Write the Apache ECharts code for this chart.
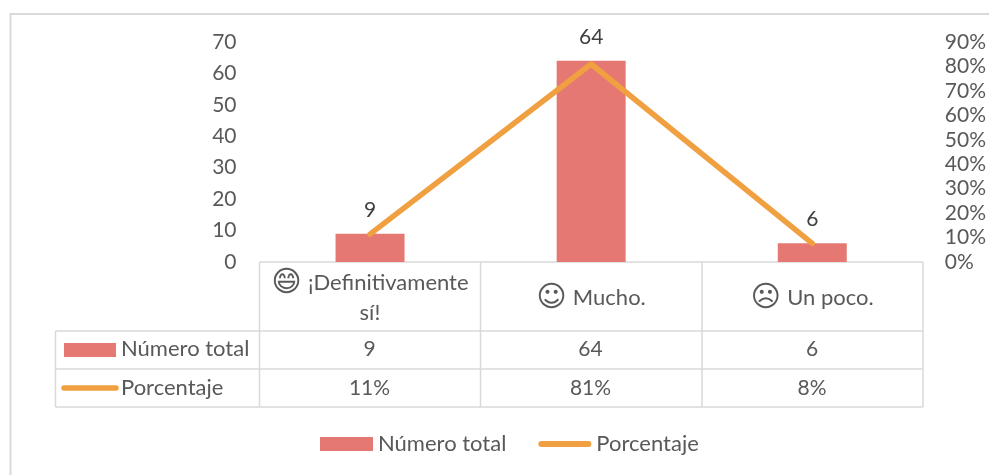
<!DOCTYPE html>
<html><head><meta charset="utf-8">
<script src="https://cdn.jsdelivr.net/npm/echarts@6/dist/echarts.min.js"></script>
<style>html,body{margin:0;padding:0;background:#fff}#c{width:989px;height:475px}</style>
</head><body><div id="c"></div>
<script>
const categories = ['¡Definitivamente\nsí!', 'Mucho.', 'Un poco.'];
const faces = ['\u{1F604}', '\u263A\uFE0E', '\u2639\uFE0E'];
const totals = [9, 64, 6];
const percentages = [0.114, 0.81, 0.076];
const percentLabels = ['11%', '81%', '8%'];
const seriesNames = ['Número total', 'Porcentaje'];
const FONT = 'Lato, "DejaVu Sans", sans-serif';
const TXT = '#595959', LINE = '#D9D9D9', BAR = '#E57873', ORANGE = '#F0A040';
const FS = 22, NUM = 21;

const vx = [55.5, 259.5, 480.5, 702, 923];
const hy = [262, 331, 369, 407];
const g = [];
function ln(x1, y1, x2, y2, w) {
  g.push({type:'line', silent:true, shape:{x1,y1,x2,y2}, style:{stroke:LINE, lineWidth:w||1.5}, z:1});
}
function tx(x, y, t, align, fs) {
  g.push({type:'text', x, y, silent:true, style:{text:t, fill:TXT, font:(fs||FS)+'px '+FONT, align:align||'center', verticalAlign:'middle'}, z:5});
}
// outer chart frame
ln(10.5, 14, 989, 14, 2); ln(10.5, 13, 10.5, 475, 2);
// table grid
ln(vx[1], hy[0], vx[4], hy[0]);
ln(vx[0], hy[1], vx[4], hy[1]);
ln(vx[0], hy[2], vx[4], hy[2]);
ln(vx[0], hy[3], vx[4], hy[3]);
ln(vx[0], hy[1], vx[0], hy[3]);
ln(vx[1], hy[0], vx[1], hy[3]);
ln(vx[2], hy[0], vx[2], hy[3]);
ln(vx[3], hy[0], vx[3], hy[3]);
ln(vx[4], hy[0], vx[4], hy[3]);
// table legend keys
g.push({type:'rect', silent:true, shape:{x:64, y:343, width:52, height:14}, style:{fill:BAR}, z:5});
g.push({type:'line', silent:true, shape:{x1:64, y1:388, x2:116, y2:388}, style:{stroke:ORANGE, lineWidth:5.5, lineCap:'round'}, z:5});
tx(121, 349, seriesNames[0], 'left');
tx(121, 388, seriesNames[1], 'left');
// table cells
const cx = [369.5, 590.5, 812];
totals.forEach((v,i)=>tx(cx[i], 349, String(v), 'center', NUM));
percentLabels.forEach((v,i)=>tx(cx[i], 388, v, 'center', NUM));

const chart = echarts.init(document.getElementById('c'), null, {renderer:'canvas'});
chart.setOption({
  animation:false,
  backgroundColor:'#fff',
  textStyle:{fontFamily:FONT},
  grid:{left:259.5, right:66, top:42, height:220, containLabel:false},
  legend:{
    left:315, top:428, itemWidth:53, itemHeight:14, itemGap:32,
    data:[{name:seriesNames[0], icon:'rect'},
          {name:seriesNames[1], icon:'path://M3 0H50A3 3 0 0 1 50 6H3A3 3 0 0 1 3 0Z'}],
    textStyle:{fontSize:FS, color:TXT, fontFamily:FONT}
  },
  xAxis:{
    type:'category', data:categories,
    axisLine:{show:false}, axisTick:{show:false},
    axisLabel:{
      interval:0, margin:36, verticalAlign:'middle', align:'center',
      formatter:(v,i)=>{
        const parts=v.split('\n');
        return '{e|'+faces[i]+'}  {t|'+parts[0]+'}'+(parts[1]?'\n{t|'+parts[1]+'}':'');
      },
      rich:{
        e:{fontFamily:'"DejaVu Sans"', fontSize:29, color:TXT, lineHeight:30},
        t:{fontFamily:FONT, fontSize:FS, color:TXT, lineHeight:30}
      }
    }
  },
  yAxis:[
    {type:'value', min:0, max:70, interval:10, splitLine:{show:false}, axisLine:{show:false}, axisTick:{show:false},
     axisLabel:{color:TXT, fontSize:NUM, fontFamily:FONT, margin:23, padding:[2,0,0,0]}},
    {type:'value', min:0, max:0.9, interval:0.1, splitLine:{show:false}, axisLine:{show:false}, axisTick:{show:false},
     axisLabel:{color:TXT, fontSize:NUM, fontFamily:FONT, margin:22, padding:[2,0,0,0], formatter:v=>Math.round(v*100)+'%'}}
  ],
  series:[
    {name:seriesNames[0], type:'bar', data:totals, barWidth:69, yAxisIndex:0, itemStyle:{color:BAR}, z:2,
     label:{show:true, position:'top', distance:13, color:'#404040', fontSize:NUM, fontFamily:FONT}},
    {name:seriesNames[1], type:'line', data:percentages, yAxisIndex:1, symbol:'none', z:3,
     lineStyle:{color:ORANGE, width:5.5, cap:'round', join:'round'}, itemStyle:{color:ORANGE}}
  ],
  graphic:g
});
</script></body></html>
